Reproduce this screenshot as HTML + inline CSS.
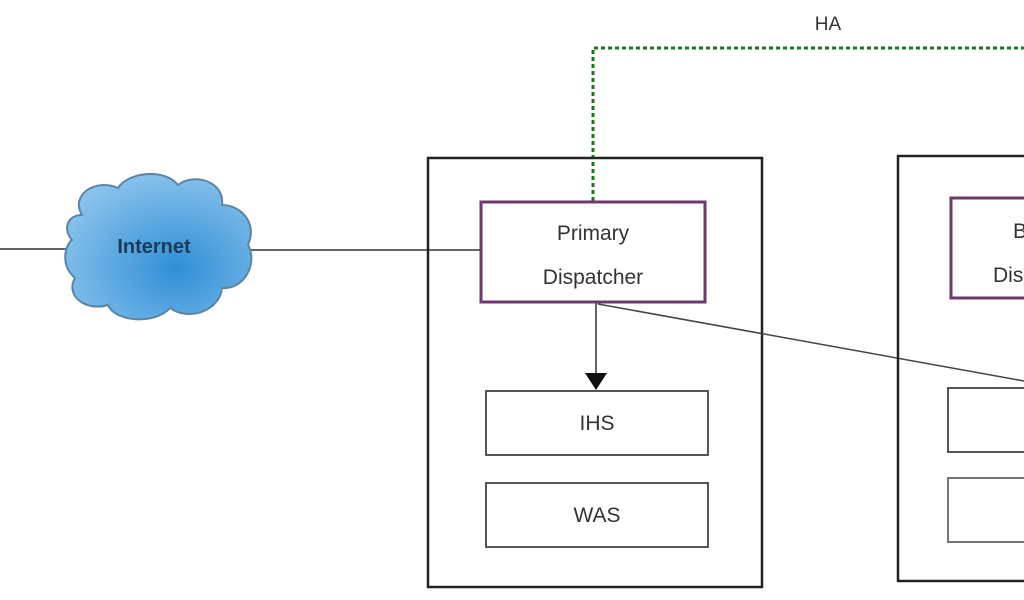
<!DOCTYPE html>
<html><head><meta charset="utf-8"><style>
html,body{margin:0;padding:0;background:#fff;width:1024px;height:600px;overflow:hidden}
text{font-family:"Liberation Sans",sans-serif;fill:#333}
</style></head><body>
<svg width="1024" height="600" viewBox="0 0 1024 600" xmlns="http://www.w3.org/2000/svg">
<defs>
<radialGradient id="cg" cx="0.6" cy="0.65" r="0.7">
<stop offset="0" stop-color="#2f8fd6"/><stop offset="1" stop-color="#8cc3ec"/>
</radialGradient>
</defs>
<line x1="0" y1="249" x2="70" y2="249" stroke="#333" stroke-width="1.5"/>
<line x1="250" y1="250" x2="481" y2="250" stroke="#333" stroke-width="1.5"/>
<path d="M82,215 C70,195 95,178 118,188 C128,172 165,168 178,185 C195,172 225,182 222,205 C240,205 258,222 248,245 C258,262 245,290 222,288 C220,310 190,322 170,308 C155,325 115,322 108,305 C85,312 65,295 75,278 C60,265 65,245 72,240 C62,228 68,215 82,215 Z" fill="url(#cg)" stroke="#5c85a5" stroke-width="2"/>
<text x="154" y="253" font-size="20" font-weight="bold" text-anchor="middle" style="fill:#1e3a5a">Internet</text>
<polyline points="593,201 593,48 1024,48" fill="none" stroke="#1a7a1a" stroke-width="3" stroke-dasharray="4,3"/>
<text x="828" y="30" font-size="19" text-anchor="middle">HA</text>
<rect x="428" y="158" width="334" height="429" fill="none" stroke="#222" stroke-width="2.5"/>
<rect x="481" y="202" width="224" height="100" fill="#fff" stroke="#6b3a6e" stroke-width="3"/>
<text x="593" y="240" font-size="21" text-anchor="middle">Primary</text>
<text x="593" y="284" font-size="21" text-anchor="middle">Dispatcher</text>
<line x1="596" y1="303" x2="596" y2="374" stroke="#333" stroke-width="1.5"/>
<polygon points="585,373 607,373 596,390" fill="#111"/>
<line x1="598" y1="304" x2="1024" y2="381" stroke="#444" stroke-width="1.5"/>
<rect x="486" y="391" width="222" height="64" fill="none" stroke="#444" stroke-width="1.8"/>
<text x="597" y="430" font-size="21" text-anchor="middle">IHS</text>
<rect x="486" y="483" width="222" height="64" fill="none" stroke="#444" stroke-width="1.8"/>
<text x="597" y="522" font-size="21" text-anchor="middle">WAS</text>
<rect x="898" y="156" width="140" height="425" fill="none" stroke="#222" stroke-width="2.5"/>
<rect x="951" y="198" width="100" height="100" fill="#fff" stroke="#6b3a6e" stroke-width="3"/>
<text x="1013" y="238" font-size="21">B</text>
<text x="993" y="282" font-size="21">Dis</text>
<rect x="948" y="388" width="100" height="64" fill="none" stroke="#444" stroke-width="1.8"/>
<rect x="948" y="478" width="100" height="64" fill="none" stroke="#666" stroke-width="1.8"/>
</svg>
</body></html>
